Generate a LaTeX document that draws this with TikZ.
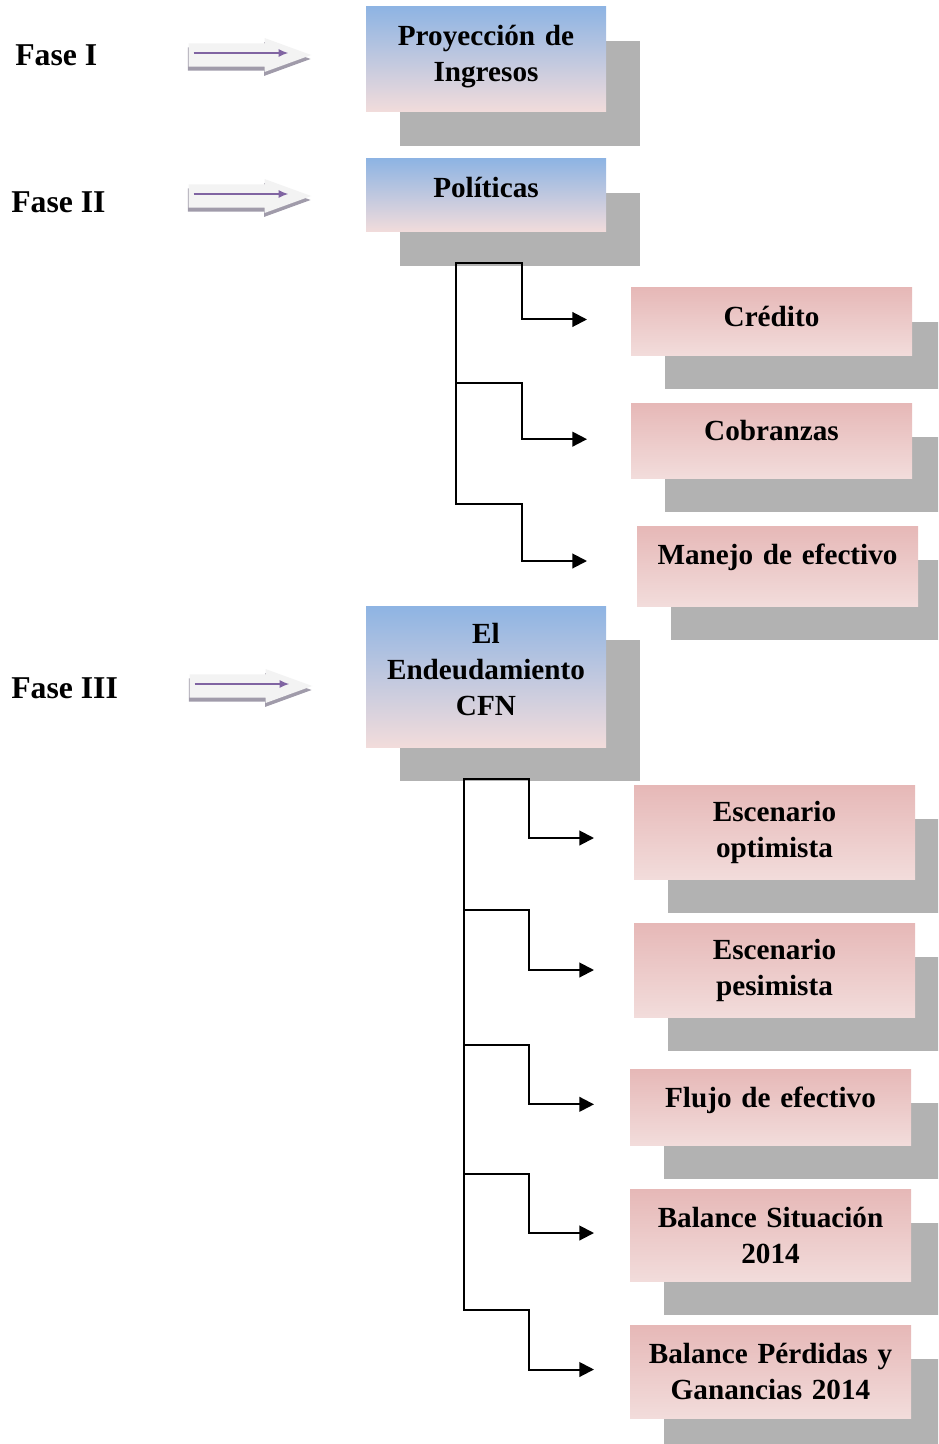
\documentclass[tikz,border=0pt]{standalone}
\usepackage{fontspec}
\setmainfont{Liberation Serif}
\usetikzlibrary{arrows.meta,shapes.arrows,shadows}
\definecolor{blueTop}{RGB}{142,180,227}
\definecolor{pinkTop}{RGB}{230,184,183}
\definecolor{paleRose}{RGB}{242,220,219}
\definecolor{shadowGray}{RGB}{178,178,178}
\definecolor{purpleLine}{RGB}{128,100,162}
\definecolor{arrowFill}{RGB}{243,243,243}
\definecolor{arrowShade}{RGB}{160,155,170}

\begin{document}
\begin{tikzpicture}[x=0.75pt,y=-0.75pt,
  every node/.style={font=\bfseries\fontsize{21.9}{27}\selectfont},
  phase/.style={anchor=west,inner sep=0pt,font=\bfseries\fontsize{23.8}{27}\selectfont},
  stagebox/.style={rectangle,align=center,inner sep=0pt,text width=170pt,minimum width=180pt,
    top color=blueTop,bottom color=paleRose,
    general shadow={shadow xshift=25.5pt,shadow yshift=-25.5pt,fill=shadowGray}},
  itembox/.style={stagebox,text width=205pt,minimum width=210.75pt,top color=pinkTop},
  lift/.style={text depth=#1},
  fasearrow/.style={single arrow,single arrow tip angle=40,single arrow head extend=4pt,
    inner xsep=0pt,inner ysep=8.5pt,minimum height=92pt,fill=arrowFill,
    general shadow={shadow xshift=-0.5pt,shadow yshift=-3pt,fill=arrowShade}},
  pointer/.style={purpleLine,line width=0.9pt,-{Latex[length=7pt,width=6pt]}},
  trunk/.style={line width=1.5pt,line cap=rect},
  link/.style={line width=1.5pt,-{Triangle[length=11pt,width=11pt]}}]

\path[use as bounding box,clip] (0,0) rectangle (938,1444);

\node[phase] (f1) at (15,55) {Fase I};
\node[phase] (f2) at (11,202) {Fase II};
\node[phase] (f3) at (11,688) {Fase III};

\node[fasearrow] (a1) at (234,55) {};
\node[fasearrow] (a2) at (234,196) {};
\node[fasearrow] (a3) at (235,686) {};
\draw[pointer] ([xshift=4pt,yshift=1.5pt]a1.west) -- ([xshift=-18pt,yshift=1.5pt]a1.tip);
\draw[pointer] ([xshift=4pt,yshift=1.5pt]a2.west) -- ([xshift=-18pt,yshift=1.5pt]a2.tip);
\draw[pointer] ([xshift=4pt,yshift=1.5pt]a3.west) -- ([xshift=-18pt,yshift=1.5pt]a3.tip);

\node[stagebox,lift=36.3pt,minimum height=78.75pt] (proy) at (486,59.5) {Proyección de\\Ingresos};
\node[stagebox,lift=12pt,minimum height=54.75pt] (pol) at (486,195.5) {Políticas};
\node[itembox,lift=7.5pt,minimum height=50.25pt] (cred) at (771.5,321.5) {Crédito};
\node[itembox,lift=15pt,minimum height=56.25pt] (cobr) at (771.5,440.5) {Cobranzas};
\node[itembox,lift=17pt,minimum height=60pt] (manejo) at (777.5,566) {Manejo de efectivo};
\node[stagebox,lift=64.5pt,minimum height=105.75pt] (endeu) at (486,676.5) {El\\Endeudamiento\\CFN};
\node[itembox,minimum height=70.5pt] (opt) at (774.5,832) {Escenario\\optimista};
\node[itembox,minimum height=70.5pt] (pes) at (774.5,970) {Escenario\\pesimista};
\node[itembox,lift=15.3pt,minimum height=57pt] (flujo) at (770.5,1107) {Flujo de efectivo};
\node[itembox,minimum height=69pt] (sit) at (770.5,1235) {Balance Situación\\2014};
\node[itembox,minimum height=69.75pt] (perd) at (770.5,1371.5) {Balance Pérdidas y\\Ganancias 2014};

\coordinate (k1) at (456,263);
\coordinate (k2) at (456,383);
\coordinate (k3) at (456,504);
\coordinate (e1) at (587,263);
\draw[trunk] (k1) -- (k3);
\draw[link] (k1) -- ++(66,0) |- ([yshift=1.5pt]e1 |- cred.west);
\draw[link] (k2) -- ++(66,0) |- ([yshift=1pt]e1 |- cobr.west);
\draw[link] (k3) -- ++(66,0) |- ([yshift=3.75pt]e1 |- manejo.west);

\coordinate (k4) at (464,779);
\coordinate (k5) at (464,910);
\coordinate (k6) at (464,1045);
\coordinate (k7) at (464,1174);
\coordinate (k8) at (464,1310);
\coordinate (e2) at (594,779);
\draw[trunk] (k4) -- (k8);
\draw[link] (k4) -- ++(65,0) |- ([yshift=-4.5pt]e2 |- opt.west);
\draw[link] (k5) -- ++(65,0) |- (e2 |- pes.west);
\draw[link] (k6) -- ++(65,0) |- ([yshift=2pt]e2 |- flujo.west);
\draw[link] (k7) -- ++(65,0) |- ([yshift=1.5pt]e2 |- sit.west);
\draw[link] (k8) -- ++(65,0) |- ([yshift=1.5pt]e2 |- perd.west);
\end{tikzpicture}
\end{document}
